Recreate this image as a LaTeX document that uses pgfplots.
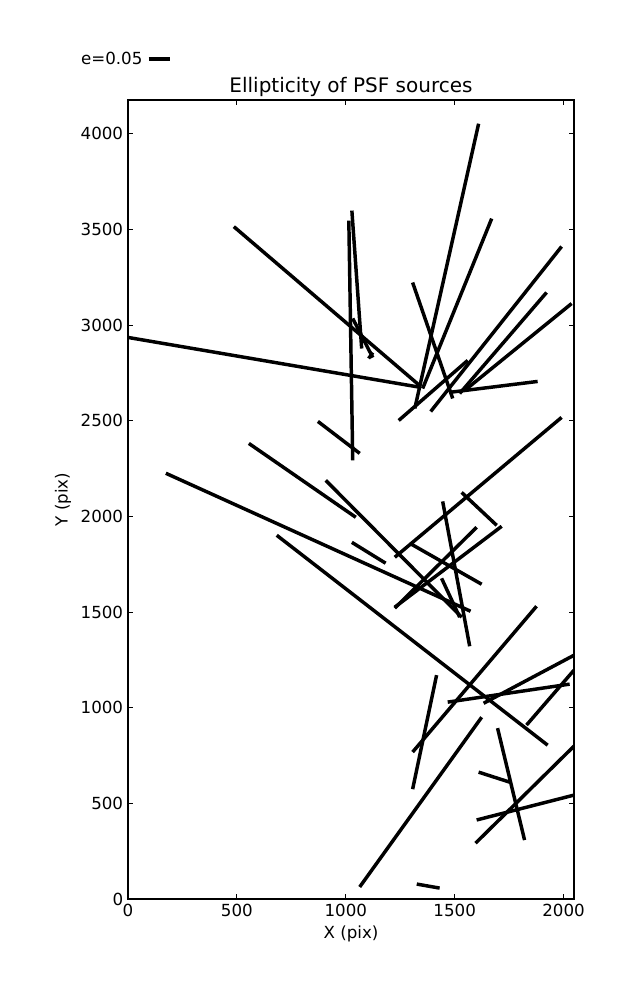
\documentclass[border=0pt]{standalone}
\usepackage{fontspec}
\setmainfont{DejaVu Sans}
\usepackage{pgfplots}
\pgfplotsset{compat=1.18}
\begin{document}
\begin{tikzpicture}
\useasboundingbox (-92.16bp,-72.72bp) rectangle (366.48bp,647.28bp);
\begin{axis}[
  at={(0,0)}, anchor=south west,
  scale only axis, width=321.12bp, height=575.28bp,
  xmin=0, xmax=2048, ymin=0, ymax=4176,
  xtick={0,500,1000,1500,2000}, ytick={0,500,...,4000},
  tick align=inside, xtick pos=both, ytick pos=both,
  major tick length=3.5bp,
  axis line style={line width=0.8bp},
  every tick/.style={black, line width=0.6bp},
  tick label style={font=\fontsize{12bp}{14bp}\selectfont},
  /pgf/number format/assume math mode=true,
  /pgf/number format/1000 sep={},
  label style={font=\fontsize{12bp}{14bp}\selectfont},
  xlabel={X (pix)}, ylabel={Y (pix)},
  title={Ellipticity of PSF sources},
  title style={font=\fontsize{14.4bp}{16bp}\selectfont, yshift=-7bp},
  legend style={draw=none, fill=none, at={(axis description cs:-0.112,1.0513)}, anchor=west, inner sep=0pt, font=\fontsize{12bp}{14bp}\selectfont},
  legend plot pos=right,
  legend image code/.code={\path (0bp,0bp); \draw[line width=2.9bp,black] (2.2bp,0bp) -- (18bp,0bp);},
  seg/.style={black, line width=2.5bp, no markers, forget plot},
]
\addplot[seg] coordinates {(0,2935) (1344,2674)};
\addplot[seg] coordinates {(486,3514) (1344,2679)};
\addplot[seg] coordinates {(1610,4052) (1317,2564)};
\addplot[seg] coordinates {(1670,3556) (1353,2668)};
\addplot[seg] coordinates {(1307,3222) (1491,2616)};
\addplot[seg] coordinates {(1243,2501) (1560,2815)};
\addplot[seg] coordinates {(1390,2548) (1991,3410)};
\addplot[seg] coordinates {(1523,2642) (1922,3170)};
\addplot[seg] coordinates {(1546,2658) (2037,3112)};
\addplot[seg] coordinates {(1477,2648) (1881,2705)};
\addplot[seg] coordinates {(1225,1786) (1991,2517)};
\addplot[seg] coordinates {(1014,3546) (1032,2292)};
\addplot[seg] coordinates {(1028,3598) (1073,2877)};
\addplot[seg] coordinates {(1032,3034) (1124,2830)};
\addplot[seg] coordinates {(1105,2825) (1124,2856)};
\addplot[seg] coordinates {(872,2496) (1064,2329)};
\addplot[seg] coordinates {(555,2381) (1046,1995)};
\addplot[seg] coordinates {(174,2225) (1573,1504)};
\addplot[seg] coordinates {(683,1901) (1927,804)};
\addplot[seg] coordinates {(1028,1864) (1183,1755)};
\addplot[seg] coordinates {(908,2188) (1532,1473)};
\addplot[seg] coordinates {(1294,1859) (1624,1645)};
\addplot[seg] coordinates {(1532,2125) (1693,1953)};
\addplot[seg] coordinates {(1445,2078) (1569,1321)};
\addplot[seg] coordinates {(1225,1520) (1601,1943)};
\addplot[seg] coordinates {(1225,1525) (1716,1948)};
\addplot[seg] coordinates {(1440,1676) (1523,1473)};
\addplot[seg] coordinates {(1307,768) (1876,1530)};
\addplot[seg] coordinates {(1307,574) (1417,1170)};
\addplot[seg] coordinates {(1064,63) (1624,950)};
\addplot[seg] coordinates {(1468,1029) (2028,1123)};
\addplot[seg] coordinates {(1633,1023) (2048,1274)};
\addplot[seg] coordinates {(1830,909) (2048,1196)};
\addplot[seg] coordinates {(1697,893) (1821,308)};
\addplot[seg] coordinates {(1610,663) (1752,611)};
\addplot[seg] coordinates {(1601,413) (2048,543)};
\addplot[seg] coordinates {(1596,292) (2048,799)};
\addplot[seg] coordinates {(1326,78) (1431,57)};
\addlegendimage{black}
\addlegendentry{e=0.05}
\end{axis}
\end{tikzpicture}
\end{document}
